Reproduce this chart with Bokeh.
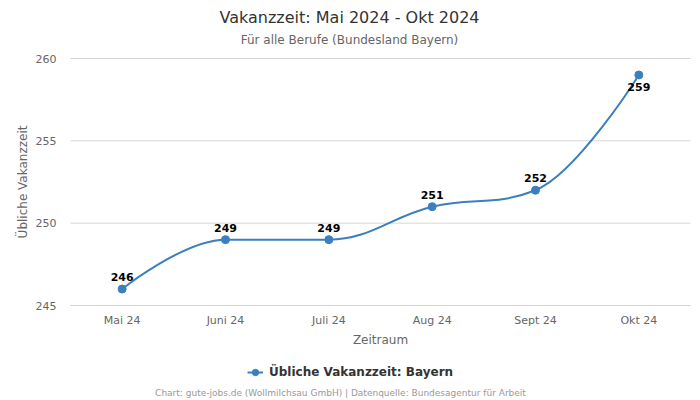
from bokeh.plotting import figure
from bokeh.models import (ColumnDataSource, Legend, LegendItem, FixedTicker,
                          Range1d, Label)
from bokeh.embed import file_html
from bokeh.resources import INLINE
from bokeh.core.properties import value

# ---- data ----
categories = ["Mai 24", "Juni 24", "Juli 24", "Aug 24", "Sept 24", "Okt 24"]
values = [246, 249, 249, 251, 252, 259]
y_ticks = [245, 250, 255, 260]
title = "Vakanzzeit: Mai 2024 - Okt 2024"
subtitle = "Für alle Berufe (Bundesland Bayern)"
series_name = "Übliche Vakanzzeit: Bayern"
x_title = "Zeitraum"
y_title = "Übliche Vakanzzeit"
footer = "Chart: gute-jobs.de (Wollmilchsau GmbH) | Datenquelle: Bundesagentur für Arbeit"

FONT = "DejaVu Sans"
COLOR = "#3b7fbd"
W, H = 700, 400
# plot area in canvas pixels
PL, PR, PT, PB = 70, 690, 58, 305

xs = list(range(len(categories)))
x_lo, x_hi = -0.5, len(categories) - 0.5
y_lo, y_hi = min(y_ticks), max(y_ticks)
xpx = (PR - PL) / (x_hi - x_lo)
ypx = (PB - PT) / (y_hi - y_lo)


# Highcharts-style spline control points
def spline_segments(xv, yv, smoothing=1.5):
    n = len(xv)
    denom = smoothing + 1
    lc = [None] * n
    rc = [None] * n
    for i in range(1, n - 1):
        px, py = xv[i], yv[i]
        lx, ly = xv[i - 1], yv[i - 1]
        nx, ny = xv[i + 1], yv[i + 1]
        lcx = (smoothing * px + lx) / denom
        lcy = (smoothing * py + ly) / denom
        rcx = (smoothing * px + nx) / denom
        rcy = (smoothing * py + ny) / denom
        if rcx != lcx:
            corr = ((rcy - lcy) * (rcx - px)) / (rcx - lcx) + py - rcy
            lcy += corr
            rcy += corr
        if lcy > ly and lcy > py:
            lcy = max(ly, py)
            rcy = 2 * py - lcy
        elif lcy < ly and lcy < py:
            lcy = min(ly, py)
            rcy = 2 * py - lcy
        if rcy > ny and rcy > py:
            rcy = max(ny, py)
            lcy = 2 * py - rcy
        elif rcy < ny and rcy < py:
            rcy = min(ny, py)
            lcy = 2 * py - rcy
        lc[i] = (lcx, lcy)
        rc[i] = (rcx, rcy)
    seg = dict(x0=[], y0=[], x1=[], y1=[], cx0=[], cy0=[], cx1=[], cy1=[])
    for i in range(1, n):
        a = rc[i - 1] if rc[i - 1] else (xv[i - 1], yv[i - 1])
        b = lc[i] if lc[i] else (xv[i], yv[i])
        seg["x0"].append(xv[i - 1]); seg["y0"].append(yv[i - 1])
        seg["x1"].append(xv[i]); seg["y1"].append(yv[i])
        seg["cx0"].append(a[0]); seg["cy0"].append(a[1])
        seg["cx1"].append(b[0]); seg["cy1"].append(b[1])
    return seg


p = figure(width=W, height=H, output_backend="svg", toolbar_location=None,
           x_range=Range1d(x_lo - PL / xpx, x_hi + (W - PR) / xpx),
           y_range=Range1d(y_lo - (H - PB) / ypx, y_hi + PT / ypx),
           min_border=0)
p.outline_line_color = None
p.background_fill_color = "white"
p.border_fill_color = "white"
p.xgrid.visible = False
p.ygrid.visible = False

# horizontal grid lines across the plot area
p.segment(x0=[x_lo] * len(y_ticks), x1=[x_hi] * len(y_ticks), y0=y_ticks, y1=y_ticks,
          line_color="#d6d6d6", line_width=1)

seg_src = ColumnDataSource(spline_segments(xs, values))
curve = p.bezier(x0="x0", y0="y0", x1="x1", y1="y1", cx0="cx0", cy0="cy0", cx1="cx1",
                 cy1="cy1", source=seg_src, line_color=COLOR, line_width=2)

vmax = max(values)
src = ColumnDataSource(dict(
    x=xs, y=values, lbl=[str(v) for v in values],
    yoff=[8 if v == vmax else -8 for v in values],
    base=["top" if v == vmax else "bottom" for v in values],
))
pts = p.scatter("x", "y", source=src, size=8, fill_color=COLOR, line_color=COLOR)
p.text("x", "y", text="lbl", source=src, y_offset="yoff", text_baseline="base",
       text_align="center", text_font=value(FONT), text_font_size="11px",
       text_font_style="bold", text_color="black")

# axes (fixed at the plot-area edges)
xa = p.xaxis[0]
xa.fixed_location = y_lo
xa.bounds = (x_lo, x_hi)
xa.ticker = FixedTicker(ticks=xs)
xa.major_label_overrides = {i: c for i, c in enumerate(categories)}
xa.axis_line_color = "#ccd6eb"
xa.major_tick_line_color = None
xa.minor_tick_line_color = None
xa.major_tick_out = 0
xa.minor_tick_out = 0
xa.major_label_text_color = "#666666"
xa.major_label_text_font = FONT
xa.major_label_text_font_size = "11px"
xa.major_label_standoff = 8
xa.axis_label = x_title
xa.axis_label_text_font = FONT
xa.axis_label_text_font_size = "12px"
xa.axis_label_text_font_style = "normal"
xa.axis_label_text_color = "#666666"
xa.axis_label_standoff = 3

ya = p.yaxis[0]
ya.fixed_location = x_lo
ya.bounds = (y_lo, y_hi)
ya.ticker = FixedTicker(ticks=y_ticks)
ya.axis_line_color = None
ya.major_tick_line_color = None
ya.minor_tick_line_color = None
ya.major_tick_out = 0
ya.minor_tick_out = 0
ya.major_label_text_color = "#666666"
ya.major_label_text_font = FONT
ya.major_label_text_font_size = "11px"
ya.major_label_standoff = 14
ya.axis_label = y_title
ya.axis_label_text_font = FONT
ya.axis_label_text_font_size = "12px"
ya.axis_label_text_font_style = "normal"
ya.axis_label_text_color = "#666666"
ya.axis_label_standoff = 3

# titles and footer (screen units = canvas pixels, y from bottom)
p.add_layout(Label(x=349, y=H - 17, x_units="screen", y_units="screen", text=title,
                   text_align="center", text_baseline="middle", text_font=FONT,
                   text_font_size="16px", text_color="#333333"))
p.add_layout(Label(x=349, y=H - 39, x_units="screen", y_units="screen", text=subtitle,
                   text_align="center", text_baseline="middle", text_font=FONT,
                   text_font_size="12px", text_color="#666666"))
p.add_layout(Label(x=340, y=H - 392, x_units="screen", y_units="screen", text=footer,
                   text_align="center", text_baseline="middle", text_font=FONT,
                   text_font_size="9px", text_color="#999999"))

# legend (line sample from a one-point line renderer, marker from the points)
leg_line = p.line(x=xs[:1], y=values[:1], line_color=COLOR, line_width=2)
legend = Legend(items=[LegendItem(label=series_name, renderers=[leg_line, pts])],
                location=(247, H - 382), orientation="horizontal",
                padding=0, margin=0, spacing=0, glyph_width=16, glyph_height=16,
                label_standoff=6, label_height=20,
                label_text_font=FONT, label_text_font_size="12px",
                label_text_font_style="bold", label_text_color="#333333",
                border_line_alpha=0, background_fill_alpha=0)
p.add_layout(legend, "center")

open("out.html", "w").write(file_html(p, INLINE))
